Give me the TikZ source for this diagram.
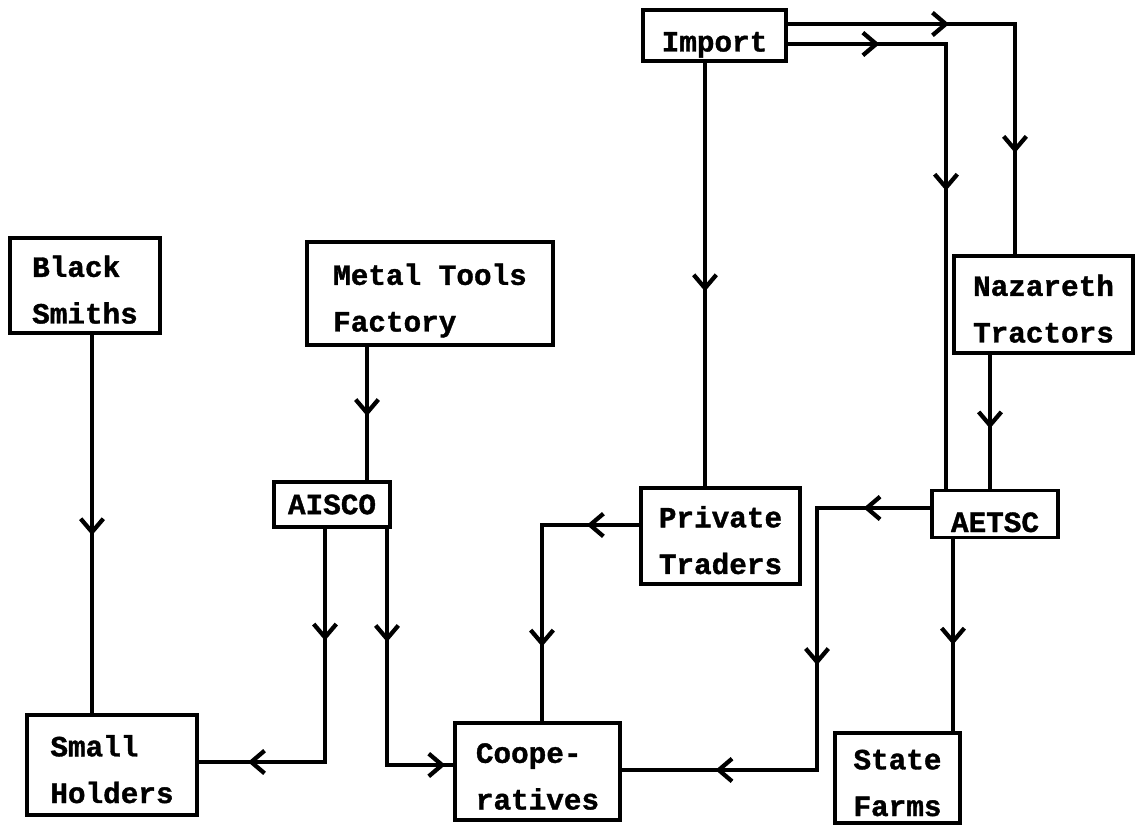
\documentclass[tikz,border=0pt]{standalone}
\usepackage{fontspec}
\newfontfamily\twfont{Liberation Mono}[BoldFeatures={FakeBold=1.2}]
\usetikzlibrary{arrows.meta,decorations.markings}
\newcommand\twolines[2]{\begin{tabular}[t]{@{}l@{}}#1\\#2\end{tabular}}
\begin{document}
\begin{tikzpicture}[x=0.75pt,y=-0.75pt,
  box/.style={draw, line width=2.5pt, inner sep=0pt,
    font=\twfont\bfseries\fontsize{22}{35}\selectfont},
  twobox/.style={box, text height=0pt, text depth=13pt},
  ln/.style={line width=2.8pt, line cap=rect},
  arr/.style={ln, decoration={markings, mark=at position #1 with
    {\arrow{Straight Barb[length=10pt,width=17pt,line width=3.2pt]}}},
    postaction=decorate}]
\useasboundingbox (0,0) rectangle (1136,827);
% boxes
\node[twobox, minimum width=112.5pt, minimum height=71.25pt] (bs) at (85,285.5) {\twolines{Black}{Smiths}};
\node[twobox, minimum width=184.5pt, minimum height=77.25pt] (mt) at (430,293.5) {\twolines{Metal Tools}{Factory}};
\node[box, minimum width=87pt, minimum height=33.75pt] (aisco) at (332,504.5) {AISCO};
\node[twobox, minimum width=127.5pt, minimum height=75pt] (sh) at (112,765) {\twolines{Small}{Holders}};
\node[twobox, minimum width=123.75pt, minimum height=72.75pt] (coop) at (537.5,771.5) {\twolines{Coope-}{ratives}};
\node[twobox, minimum width=119.25pt, minimum height=72pt] (pt) at (720.5,536) {\twolines{Private}{Traders}};
\node[box, minimum width=107.25pt, minimum height=38.25pt, text height=24pt, text depth=0pt] (imp) at (714.5,35.5) {Import};
\node[twobox, minimum width=134.25pt, minimum height=72.75pt] (nt) at (1043.5,304.5) {\twolines{Nazareth}{Tractors}};
\node[box, minimum width=94.5pt, minimum height=35pt, text height=27pt, text depth=0pt] (aetsc) at (995,514) {AETSC};
\node[twobox, minimum width=93.75pt, minimum height=67.5pt] (sf) at (897.5,778) {\twolines{State}{Farms}};
% coordinates
\coordinate (a1) at (1015,24);
\coordinate (a2) at (946,44);
\coordinate (a3) at (705,0);
\coordinate (a4) at (990,0);
\coordinate (a5) at (817,508);
\coordinate (a6) at (817,770);
\coordinate (a7) at (953,0);
\coordinate (a8) at (542,525);
\coordinate (a9) at (92,0);
\coordinate (a10) at (367,0);
\coordinate (a11) at (325,762);
\coordinate (a12) at (387,765);
% connectors
\draw[arr=0.71] (imp.east |- a1) -- (a1);
\draw[arr=0.56] (a1) -- (a1 |- nt.north);
\draw[arr=0.58] (imp.east |- a2) -- (a2);
\draw[arr=0.33] (a2) -- (a2 |- aetsc.north);
\draw[arr=0.54] (imp.south -| a3) -- (pt.north -| a3);
\draw[arr=0.55] (nt.south -| a4) -- (aetsc.north -| a4);
\draw[arr=0.59] (aetsc.west |- a5) -- (a5);
\draw[arr=0.6] (a5) -- (a6);
\draw[arr=0.52] (a6) -- (coop.east |- a6);
\draw[arr=0.55] (aetsc.south -| a7) -- (sf.north -| a7);
\draw[arr=0.54] (pt.west |- a8) -- (a8);
\draw[arr=0.62] (a8) -- (coop.north -| a8);
\draw[arr=0.53] (bs.south -| a9) -- (sh.north -| a9);
\draw[arr=0.52] (mt.south -| a10) -- (aisco.north -| a10);
\draw[arr=0.48] (aisco.south -| a11) -- (a11);
\draw[arr=0.61] (a11) -- (sh.east |- a11);
\draw[arr=0.48] (aisco.south -| a12) -- (a12);
\draw[arr=0.88] (a12) -- (coop.west |- a12);
\end{tikzpicture}
\end{document}
